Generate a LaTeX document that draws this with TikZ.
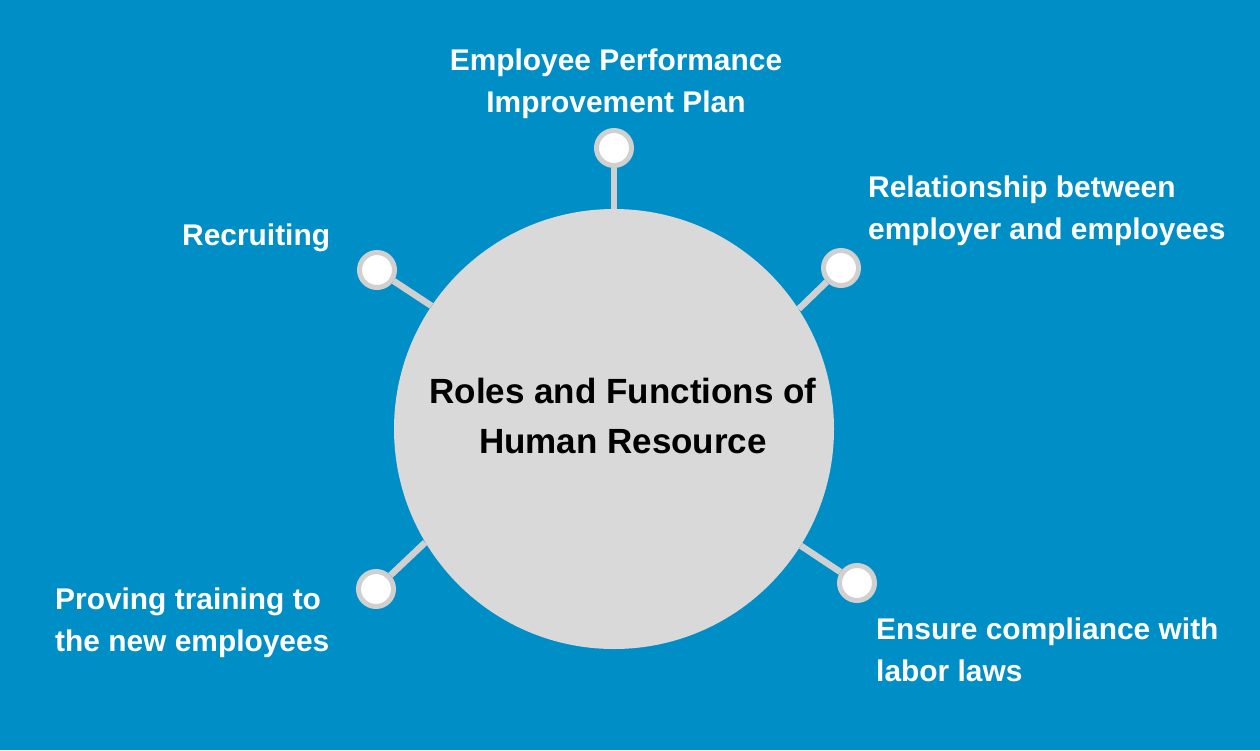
\documentclass[tikz,border=0pt]{standalone}
\usepackage{fontspec}
\setmainfont{Liberation Sans}
\definecolor{bgblue}{RGB}{0,142,199}
\definecolor{hubgray}{RGB}{217,217,217}
\definecolor{ringgray}{RGB}{208,208,208}

\begin{document}
\begin{tikzpicture}[x=1pt, y=-1pt,
  knob/.style={circle, fill=white, draw=ringgray, line width=5pt, minimum size=35pt, inner sep=0pt},
  stem/.style={draw=ringgray, line width=6.5pt},
  lbl/.style={text=white, inner sep=0pt, align=left, font=\fontsize{29.9}{42}\selectfont\bfseries}]
  \fill[bgblue] (0,0) rectangle (1260,750);
  \useasboundingbox (0,0) rectangle (1260,750);
  % centre disc
  \node[circle, fill=hubgray, minimum size=440pt, inner sep=0pt] (hub) at (614,429) {};
  \node[align=center, font=\fontsize{35}{50}\selectfont\bfseries] (htitle) at (623,416)
     {Roles and Functions of\\Human Resource};
  % knobs
  \node[knob] (kplan) at (614,148) {};
  \node[knob] (krec) at (377,270) {};
  \node[knob] (krel) at (841,268) {};
  \node[knob] (ktrain) at (376,589) {};
  \node[knob] (klaw) at (857,583) {};
  \draw[stem] (kplan) -- (hub.90);
  \draw[stem] (krec) -- (hub.146.7);
  \draw[stem] (krel) -- (hub.33);
  \draw[stem] (ktrain) -- (hub.211);
  \draw[stem] (klaw) -- (hub.328);
  % labels
  \node[lbl, align=center] (lplan) at (616,84) {Employee Performance\\Improvement Plan};
  \node[lbl, anchor=west] (lrec) at (182,238) {Recruiting};
  \node[lbl, anchor=west] (lrel) at (868,211) {Relationship between\\employer and employees};
  \node[lbl, anchor=west] (ltrain) at (55,623) {Proving training to\\the new employees};
  \node[lbl, anchor=west] (llaw) at (876,650) {Ensure compliance with\\labor laws};
\end{tikzpicture}
\end{document}
